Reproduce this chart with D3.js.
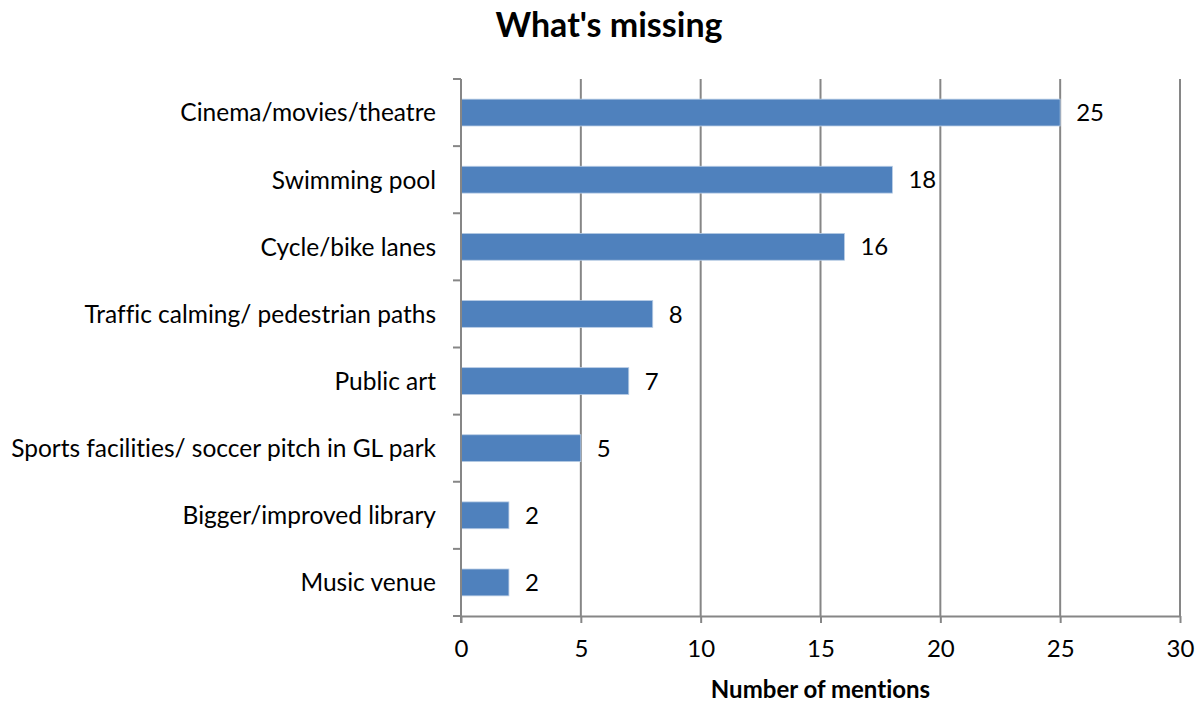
<!DOCTYPE html>
<html><head><meta charset="utf-8">
<script src="https://cdn.jsdelivr.net/npm/d3@7"></script>
<style>body{margin:0;background:#fff}svg{display:block}text{font-variant-ligatures:none;font-feature-settings:"liga" 0}</style>
</head><body>
<script>
const categories = ["Cinema/movies/theatre","Swimming pool","Cycle/bike lanes","Traffic calming/ pedestrian paths","Public art","Sports facilities/ soccer pitch in GL park","Bigger/improved library","Music venue"];
const values = [25,18,16,8,7,5,2,2];
const xTicks = [0,5,10,15,20,25,30];
const title = "What's missing";
const xTitle = "Number of mentions";

const W=1204,H=704;
const m={left:461,right:1180,top:79,bottom:616};
const font="Lato, 'Open Sans', sans-serif";
const svg=d3.select("body").append("svg").attr("width",W).attr("height",H);
const x=d3.scaleLinear().domain([0,30]).range([m.left,m.right]);
const y=d3.scaleBand().domain(categories).range([m.top,m.bottom]).paddingInner(0.6).paddingOuter(0.3);
const yb=d3.scaleBand().domain(categories).range([m.top,m.bottom]);

svg.append("g").selectAll("line").data(xTicks.slice(1)).join("line")
 .attr("x1",d=>x(d)).attr("x2",d=>x(d)).attr("y1",m.top).attr("y2",m.bottom)
 .attr("stroke","#868686").attr("stroke-width",2);

svg.append("g").selectAll("rect").data(values).join("rect")
 .attr("x",x(0)).attr("y",(d,i)=>y(categories[i]))
 .attr("width",d=>x(d)-x(0)).attr("height",y.bandwidth())
 .attr("fill","#4F81BD").attr("stroke","#B9CDE5").attr("stroke-width",0.8);

svg.append("g").selectAll("text").data(values).join("text")
 .attr("x",d=>x(d)+16).attr("y",(d,i)=>y(categories[i])+y.bandwidth()/2)
 .attr("dy","0.36em").attr("font-family",font).attr("font-size",24).attr("fill","#000")
 .text(d=>d);

const xa=svg.append("g").attr("transform",`translate(0,${m.bottom})`)
 .call(d3.axisBottom(x).tickValues(xTicks).tickSize(7).tickSizeOuter(0).tickPadding(17));
xa.select(".domain").attr("stroke","#868686").attr("stroke-width",2);
xa.selectAll(".tick line").attr("stroke","#868686").attr("stroke-width",2);
xa.selectAll("text").attr("font-family",font).attr("font-size",24).attr("fill","#000");

svg.append("line").attr("x1",m.left).attr("x2",m.left).attr("y1",m.top).attr("y2",m.bottom+7)
 .attr("stroke","#868686").attr("stroke-width",2);
const yt=categories.map(c=>yb(c)).concat([m.bottom]);
svg.append("g").selectAll("line").data(yt).join("line")
 .attr("x1",m.left-8).attr("x2",m.left).attr("y1",d=>d).attr("y2",d=>d)
 .attr("stroke","#868686").attr("stroke-width",2);
svg.append("g").selectAll("text").data(categories).join("text")
 .attr("x",436).attr("y",c=>yb(c)+yb.bandwidth()/2).attr("dy","0.36em")
 .attr("text-anchor","end").attr("font-family",font).attr("font-size",24.5).attr("fill","#000")
 .text(c=>c);

svg.append("text").attr("x",609).attr("y",37).attr("text-anchor","middle")
 .attr("font-family",font).attr("font-weight","bold").attr("font-size",34).text(title);
svg.append("text").attr("x",(m.left+m.right)/2).attr("y",698).attr("text-anchor","middle")
 .attr("font-family",font).attr("font-weight","bold").attr("font-size",24).text(xTitle);
</script>
</body></html>
